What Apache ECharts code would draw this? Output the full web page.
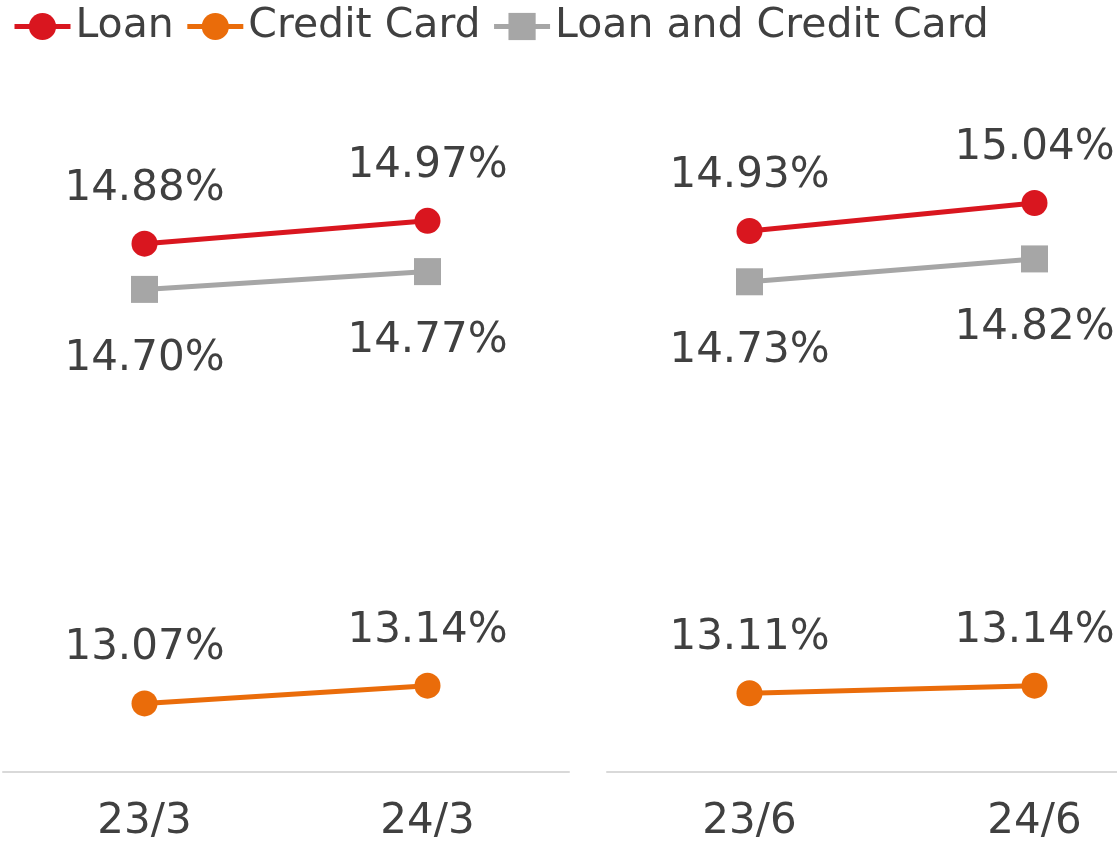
<!DOCTYPE html>
<html>
<head>
<meta charset="utf-8">
<script src="https://cdn.jsdelivr.net/npm/echarts@6/dist/echarts.min.js"></script>
<style>
  html, body { margin: 0; padding: 0; background: #fff; }
  #chart { width: 1117px; height: 841px; }
</style>
</head>
<body>
<div id="chart"></div>
<script>
// 数据
const categories1 = ['23/3', '24/3']
const categories2 = ['23/6', '24/6']
const loan1 = [14.88, 14.97]
const card1 = [13.07, 13.14]
const both1 = [14.70, 14.77]
const loan2 = [14.93, 15.04]
const card2 = [13.11, 13.14]
const both2 = [14.73, 14.82]

const red = '#d9161f'
const orange = '#ea6c0a'
const gray = '#a6a6a6'
const textColor = '#404040'
const font = 'DejaVu Sans'

var myChart = echarts.init(document.querySelector('#chart'))

function lineSeries (name, data, color, symbol, idx, below) {
  return {
    name: name,
    type: 'line',
    xAxisIndex: idx,
    yAxisIndex: idx,
    data: data,
    symbol: symbol,
    symbolSize: symbol === 'rect' ? 27 : 26,
    lineStyle: { color: color, width: 5 },
    itemStyle: { color: color },
    label: {
      show: true,
      position: below ? 'bottom' : 'top',
      distance: below ? 35 : 21,
      fontSize: 42,
      fontFamily: font,
      color: textColor,
      formatter: p => p.value.toFixed(2) + '%'
    }
  }
}

function xAxis (data, idx) {
  return {
    type: 'category',
    gridIndex: idx,
    data: data,
    axisLine: { lineStyle: { color: '#d9d9d9', width: 2 } },
    axisTick: { show: false },
    axisLabel: { fontSize: 42, fontFamily: font, color: textColor, margin: 29 }
  }
}

function yAxis (idx) {
  return { type: 'value', gridIndex: idx, min: 12.8, max: 15.3, show: false }
}

const option = {
  animation: false,
  legend: {
    left: 7,
    top: 1,
    itemWidth: 56,
    itemHeight: 34,
    itemGap: 11,
    lineStyle: { width: 5 },
    textStyle: { fontSize: 41, fontFamily: font, color: textColor },
    data: ['Loan', 'Credit Card', 'Loan and Credit Card']
  },
  grid: [
    { left: 3, width: 566, top: 137, bottom: 69, outerBoundsMode: 'none' },
    { left: 607, width: 570, top: 137, bottom: 69, outerBoundsMode: 'none' }
  ],
  xAxis: [xAxis(categories1, 0), xAxis(categories2, 1)],
  yAxis: [yAxis(0), yAxis(1)],
  series: [
    lineSeries('Loan', loan1, red, 'circle', 0, false),
    lineSeries('Credit Card', card1, orange, 'circle', 0, false),
    lineSeries('Loan and Credit Card', both1, gray, 'rect', 0, true),
    lineSeries('Loan', loan2, red, 'circle', 1, false),
    lineSeries('Credit Card', card2, orange, 'circle', 1, false),
    lineSeries('Loan and Credit Card', both2, gray, 'rect', 1, true)
  ]
}

myChart.setOption(option)
</script>
</body>
</html>
